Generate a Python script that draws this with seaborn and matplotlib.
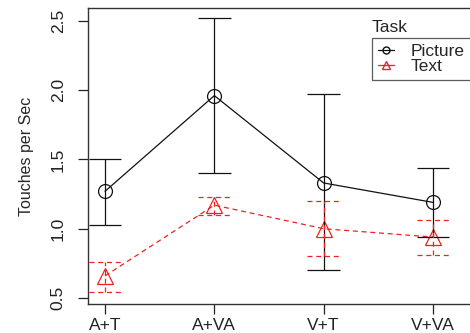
import numpy as np
import pandas as pd
import matplotlib
matplotlib.use("Agg")
import matplotlib.pyplot as plt
import seaborn as sns
from matplotlib.lines import Line2D

conditions = ["A+T", "A+VA", "V+T", "V+VA"]
picture_mean = [1.27, 1.96, 1.33, 1.19]
picture_low = [1.03, 1.40, 0.70, 0.94]
picture_high = [1.50, 2.52, 1.97, 1.44]
text_mean = [0.66, 1.17, 1.00, 0.94]
text_low = [0.54, 1.10, 0.80, 0.81]
text_high = [0.76, 1.23, 1.20, 1.06]
tasks = ["Picture", "Text"]

sns.set_theme(style="ticks")
plt.rcParams["font.family"] = ["Liberation Sans", "DejaVu Sans"]

df = pd.DataFrame({
    "cond": conditions * 2,
    "value": picture_mean + text_mean,
    "task": [tasks[0]] * 4 + [tasks[1]] * 4,
})

fig = plt.figure(figsize=(4.70, 3.33), dpi=100)
ax = fig.add_axes([88 / 470, 29 / 333, (475 - 88) / 470, (304 - 8) / 333])

colors = {"Picture": "#111111", "Text": "#ee2222"}
sns.pointplot(data=df, x="cond", y="value", hue="task", order=conditions,
              hue_order=tasks, palette=colors, markers=["o", "^"],
              linestyles=["-", "--"], errorbar=None, ax=ax, legend=False)

for ln in ax.lines:
    ln.set_markerfacecolor("none")
    ln.set_linewidth(0.9)
    ln.set_markeredgewidth(0.9)
    if ln.get_marker() == "o":
        ln.set_markersize(10)
    else:
        ln.set_markersize(12)
        ln.set_dashes([4, 3])

xpos = np.arange(len(conditions))
cw = 0.15
ax.vlines(xpos, picture_low, picture_high, color=colors["Picture"], lw=0.9)
ax.hlines(picture_low, xpos - cw, xpos + cw, color=colors["Picture"], lw=0.9)
ax.hlines(picture_high, xpos - cw, xpos + cw, color=colors["Picture"], lw=0.9)
for lo, hi in [(text_low, text_high)]:
    ax.vlines(xpos, lo, hi, color=colors["Text"], lw=0.9, linestyles=(0, (4, 3)))
    ax.hlines(lo, xpos - cw, xpos + cw, color=colors["Text"], lw=0.9, linestyles=(0, (4, 3)))
    ax.hlines(hi, xpos - cw, xpos + cw, color=colors["Text"], lw=0.9, linestyles=(0, (4, 3)))

ax.set_xlim(-0.156, 3.385)
ax.set_ylim(0.457, 2.592)
ax.set_yticks([0.5, 1.0, 1.5, 2.0, 2.5])
ax.set_yticklabels(["0.5", "1.0", "1.5", "2.0", "2.5"], rotation=90, va="center")
ax.set_xlabel("")
ax.set_ylabel("Touches per Sec", fontsize=11.5, labelpad=12)
ax.tick_params(axis="both", length=7, width=0.9, colors="#222222", labelsize=12.5)
ax.tick_params(axis="x", pad=3)
ax.tick_params(axis="y", pad=9)
for s in ax.spines.values():
    s.set_visible(True)
    s.set_linewidth(1.0)
    s.set_color("#333333")

handles = [
    Line2D([0], [0], color=colors["Picture"], lw=0.9, marker="o", mfc="none", ms=5),
    Line2D([0], [0], color=colors["Text"], lw=0.9, marker="^", mfc="none", ms=6),
]
leg = ax.legend(handles, tasks, loc="upper left", bbox_to_anchor=(372 / 470, 1 - 38 / 333),
                bbox_transform=fig.transFigure, borderaxespad=0, frameon=True,
                fancybox=False, edgecolor="#333333", fontsize=12.5, handlelength=0.9,
                handletextpad=1.0, borderpad=0.35, labelspacing=0.0)
leg.get_frame().set_linewidth(0.9)
fig.text(372 / 470, 1 - 27 / 333, "Task", fontsize=12.5, ha="left", va="center")

fig.savefig("out.png", dpi=100)
